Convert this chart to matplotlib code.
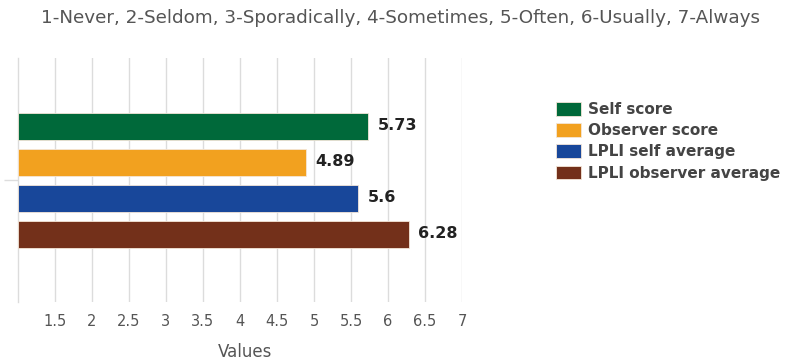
import matplotlib
matplotlib.use("Agg")
import matplotlib.pyplot as plt
import numpy as np

title = "1-Never, 2-Seldom, 3-Sporadically, 4-Sometimes, 5-Often, 6-Usually, 7-Always"
series = ["Self score", "Observer score", "LPLI self average", "LPLI observer average"]
values = [5.73, 4.89, 5.6, 6.28]
colors = ["#00693a", "#f2a11f", "#18479a", "#73301a"]
xticks = [1.5, 2, 2.5, 3, 3.5, 4, 4.5, 5, 5.5, 6, 6.5, 7]
tick_labels = ["1.5", "2", "2.5", "3", "3.5", "4", "4.5", "5", "5.5", "6", "6.5", "7"]

fig = plt.figure(figsize=(7.97, 3.6), dpi=100)
ax = fig.add_axes([18 / 797, 1 - 302 / 360, 444 / 797, 244 / 360])

bar_h = 27 / 244
step = 36 / 244
offsets = (np.arange(len(series)) - 1.5) * step
bars = []
for off, v, c, name in zip(offsets, values, colors, series):
    b = ax.barh(off, v - 1, left=1, height=bar_h, color=c, edgecolor="#f4e6d8",
                linewidth=0.6, label=name, zorder=3)
    bars.append(b)
    ax.text(v + 0.13, off, f"{v:g}", va="center", ha="left", fontsize=11.5,
            fontweight="bold", color="#222222", zorder=4)

ax.set_xlim(1, 7)
ax.set_ylim(0.5, -0.5)
ax.set_xticks(xticks)
ax.set_xticklabels(tick_labels, fontsize=10.5, color="#555555")
ax.tick_params(axis="x", length=0, pad=9)
ax.set_yticks([0])
ax.set_yticklabels([""])
ax.tick_params(axis="y", length=10, color="#dddddd", width=1)
ax.grid(axis="x", color="#dcdcdc", linewidth=1, zorder=0)
for s in ["top", "right", "bottom"]:
    ax.spines[s].set_visible(False)
ax.spines["left"].set_color("#dcdcdc")
ax.spines["left"].set_linewidth(1)
ax.set_xlabel("Values", fontsize=12, color="#555555", va="center")
ax.xaxis.set_label_coords(227 / 444, -50 / 244)

fig.text(400 / 797, 1 - 18 / 360, title, ha="center", va="center",
         fontsize=13.2, color="#555555")

leg = fig.legend(handles=bars, labels=series, loc="upper left",
                 bbox_to_anchor=(556 / 797, 1 - 102 / 360), frameon=False,
                 borderpad=0, borderaxespad=0,
                 handlelength=1.65, handleheight=1.0, labelspacing=0.4,
                 handletextpad=0.45, prop={"size": 11, "weight": "bold"})
for t in leg.get_texts():
    t.set_color("#444444")

fig.savefig("out.png", dpi=100)
